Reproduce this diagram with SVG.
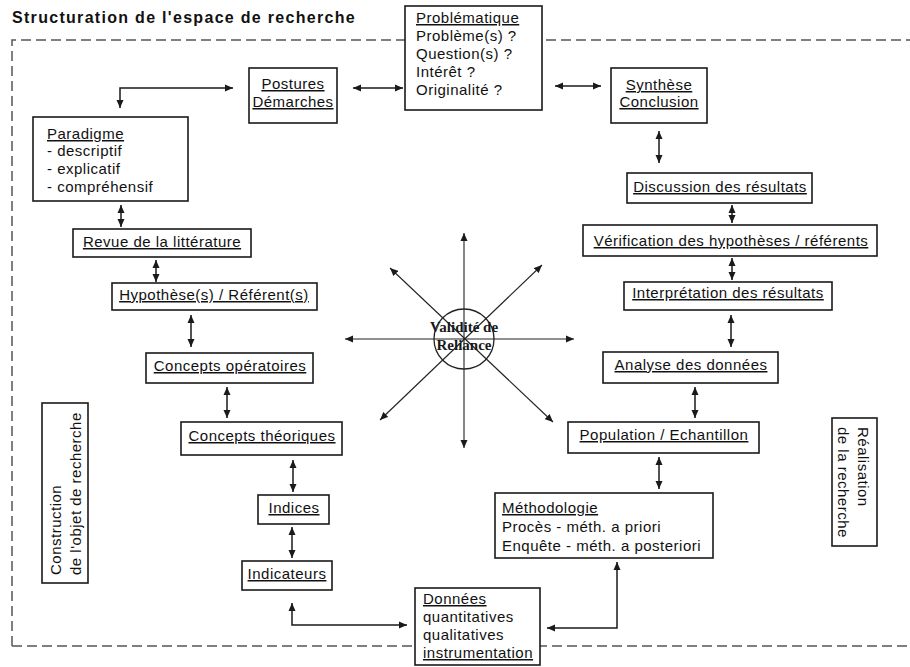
<svg xmlns="http://www.w3.org/2000/svg" width="910" height="667" viewBox="0 0 910 667">
<defs>
<style>
.box{fill:#fff;stroke:#1a1a1a;stroke-width:1.6}
.t{font-family:"Liberation Sans",Arial,sans-serif;font-size:15px;fill:#111;letter-spacing:0.5px}
.c{text-anchor:middle}
.u{text-decoration:underline}
.title{font-family:"Liberation Sans",Arial,sans-serif;font-size:16px;font-weight:bold;fill:#111;letter-spacing:1.3px}
.con{fill:none;stroke:#1a1a1a;stroke-width:1.5;marker-start:url(#ah);marker-end:url(#ah)}
.star{fill:none;stroke:#222;stroke-width:1.1;marker-start:url(#ah);marker-end:url(#ah)}
.dash{fill:none;stroke:#555;stroke-width:1.5;stroke-dasharray:10 5}
.serif{font-family:"Liberation Serif","Times New Roman",serif;font-size:15px;font-weight:bold;fill:#1a1a1a;text-anchor:middle}
</style>
<marker id="ah" markerUnits="userSpaceOnUse" markerWidth="9" markerHeight="8" refX="8" refY="4" orient="auto-start-reverse" viewBox="0 0 9 8"><path d="M0,0.5 L8,4 L0,7.5 z" fill="#1a1a1a"/></marker>
</defs>
<rect width="910" height="667" fill="#fff"/>
<text class="title" x="12" y="23">Structuration de l'espace de recherche</text>
<path class="dash" d="M12,646 L12,40 L910,40 M12,646 L910,646"/>

<g id="connectors">
<path class="con" d="M353,88 L403,88"/>
<path class="con" d="M555,86 L601,86"/>
<path class="con" d="M120,108 L120,88 L233,88"/>
<path class="con" d="M121,205 L121,227"/>
<path class="con" d="M156,260 L156,282"/>
<path class="con" d="M191,315 L191,347"/>
<path class="con" d="M227,387 L227,418"/>
<path class="con" d="M293,460 L293,492"/>
<path class="con" d="M292,527 L292,558"/>
<path class="con" d="M292,603 L292,625 L407,625"/>
<path class="con" d="M617,562 L617,628 L547,628"/>
<path class="con" d="M659,131 L659,163"/>
<path class="con" d="M732,205 L732,223"/>
<path class="con" d="M732,258 L732,280"/>
<path class="con" d="M731,315 L731,347"/>
<path class="con" d="M695,387 L695,418"/>
<path class="con" d="M659,457 L659,489"/>
</g>

<g id="validite">
<path class="star" d="M464,233 L464,448"/>
<path class="star" d="M345,339 L574,339"/>
<path class="star" d="M390,268 L553,422"/>
<path class="star" d="M542,265 L380,420"/>
<circle cx="464" cy="339" r="30" fill="none" stroke="#222" stroke-width="1.3"/>
<text class="serif" x="464" y="332">Validité de</text>
<text class="serif" x="464" y="350">Reliance</text>
</g>

<g id="problematique">
<rect class="box" x="405" y="6" width="137" height="104"/>
<text class="t u" x="416" y="23">Problématique</text>
<text class="t" x="416" y="41">Problème(s) ?</text>
<text class="t" x="416" y="59">Question(s) ?</text>
<text class="t" x="416" y="77">Intérêt ?</text>
<text class="t" x="416" y="95">Originalité ?</text>
</g>

<g id="postures">
<rect class="box" x="249" y="68" width="88" height="55"/>
<text class="t c u" x="293" y="89">Postures</text>
<text class="t c u" x="293" y="107">Démarches</text>
</g>

<g id="synthese">
<rect class="box" x="611" y="68" width="96" height="55"/>
<text class="t c u" x="659" y="90">Synthèse</text>
<text class="t c u" x="659" y="107">Conclusion</text>
</g>

<g id="paradigme">
<rect class="box" x="33" y="117" width="155" height="84"/>
<text class="t u" x="47" y="139">Paradigme</text>
<text class="t" x="47" y="156">- descriptif</text>
<text class="t" x="47" y="174">- explicatif</text>
<text class="t" x="47" y="192">- compréhensif</text>
</g>

<g id="revue">
<rect class="box" x="73" y="229" width="178" height="28"/>
<text class="t c u" x="162" y="247">Revue de la littérature</text>
</g>

<g id="hypotheses">
<rect class="box" x="112" y="283" width="205" height="27"/>
<text class="t c u" x="214" y="300">Hypothèse(s) / Référent(s)</text>
</g>

<g id="concepts-operatoires">
<rect class="box" x="146" y="353" width="167" height="30"/>
<text class="t c u" x="230" y="371">Concepts opératoires</text>
</g>

<g id="concepts-theoriques">
<rect class="box" x="181" y="422" width="161" height="33"/>
<text class="t c u" x="262" y="441">Concepts théoriques</text>
</g>

<g id="indices">
<rect class="box" x="258" y="495" width="71" height="29"/>
<text class="t c u" x="294" y="513">Indices</text>
</g>

<g id="indicateurs">
<rect class="box" x="242" y="561" width="90" height="29"/>
<text class="t c u" x="287" y="579">Indicateurs</text>
</g>

<g id="donnees">
<rect class="box" x="415" y="588" width="125" height="77"/>
<text class="t u" x="423" y="604">Données</text>
<text class="t" x="423" y="622">quantitatives</text>
<text class="t" x="423" y="640">qualitatives</text>
<text class="t u" x="423" y="658">instrumentation</text>
</g>

<g id="discussion">
<rect class="box" x="627" y="173" width="185" height="30"/>
<text class="t c u" x="720" y="192">Discussion des résultats</text>
</g>

<g id="verification">
<rect class="box" x="583" y="225" width="294" height="31"/>
<text class="t c u" x="731" y="246">Vérification des hypothèses / référents</text>
</g>

<g id="interpretation">
<rect class="box" x="624" y="282" width="208" height="28"/>
<text class="t c u" x="728" y="298">Interprétation des résultats</text>
</g>

<g id="analyse">
<rect class="box" x="603" y="352" width="175" height="31"/>
<text class="t c u" x="691" y="370">Analyse des données</text>
</g>

<g id="population">
<rect class="box" x="568" y="422" width="191" height="31"/>
<text class="t c u" x="664" y="440">Population / Echantillon</text>
</g>

<g id="methodologie">
<rect class="box" x="495" y="493" width="218" height="65"/>
<text class="t u" x="502" y="513">Méthodologie</text>
<text class="t" x="502" y="532">Procès - méth. a priori</text>
<text class="t" x="502" y="551">Enquête - méth. a posteriori</text>
</g>

<g id="construction">
<rect class="box" x="42" y="403" width="46" height="180"/>
<text class="t" transform="translate(61,575) rotate(-90)">Construction</text>
<text class="t" transform="translate(81,575) rotate(-90)">de l'objet de recherche</text>
</g>

<g id="realisation">
<rect class="box" x="832" y="418" width="45" height="128"/>
<text class="t" transform="translate(858,427) rotate(90)">Réalisation</text>
<text class="t" transform="translate(838,427) rotate(90)">de la recherche</text>
</g>
</svg>
